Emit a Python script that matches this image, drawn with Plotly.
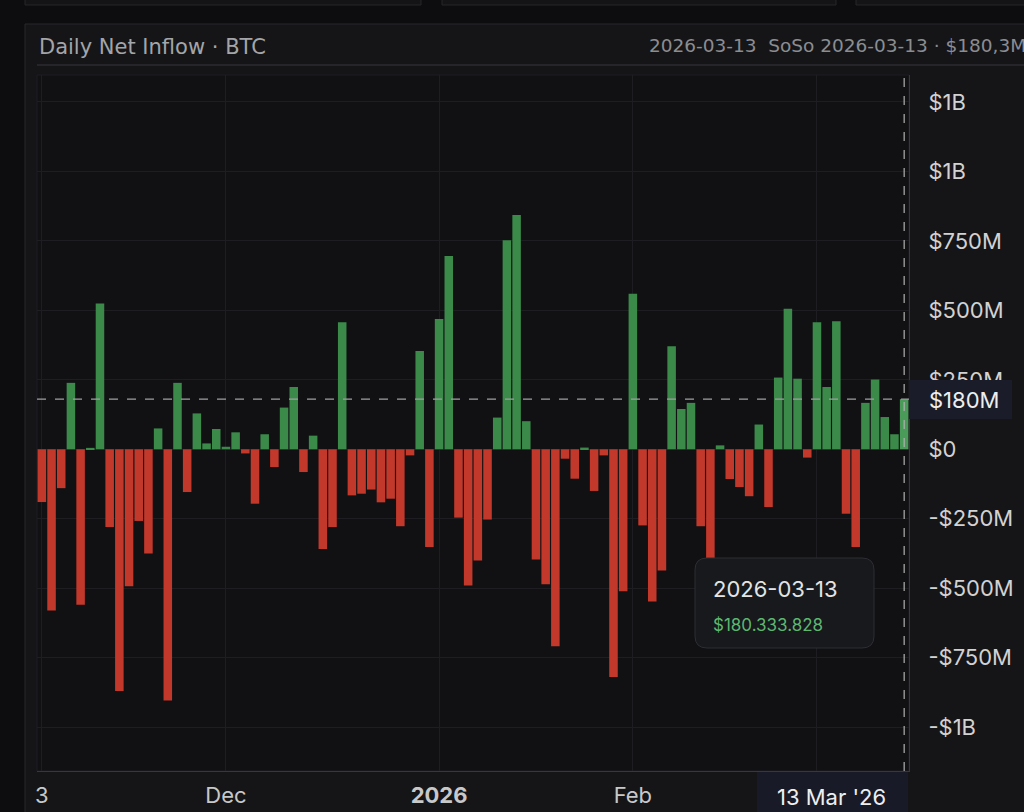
import pandas as pd
import plotly.graph_objects as go

W, H = 1024, 812
# plot area edges in page pixels
L, R, T, B = 37, 909, 75, 771

# US market holidays inside the window (ETF flows are trading days only)
HOLIDAYS = ["2025-11-27", "2025-12-25", "2026-01-01", "2026-01-19", "2026-02-16"]
dates = [d.strftime("%Y-%m-%d") for d in pd.bdate_range("2025-11-03", "2026-03-13")
         if d.strftime("%Y-%m-%d") not in HOLIDAYS]

# daily net inflow, USD millions
net_inflow_m = [
    # Nov
    -190, -580, -140, 239, -560, 5, 525, -280, -870, -493,
    -258, -375, 75, -904, 239, -154, 129, 21, 73,
    # Dec
    9, 61, -15, -196, 54, -64, 150, 224, -82, 49, -359,
    -280, 457, -166, -160, -145, -191, -178, -277, -22, 354, -352,
    # Jan
    469, 696, -246, -490, -400, -253, 114, 752, 843, 101,
    -397, -486, -709, -34, -106, 6, -150, -22, -820, -511,
    # Feb
    560, -274, -548, -436, 371, 145, 167, -277, -391, 14,
    -107, -136, -169, 89, -208, 258, 506, 254, -30,
    # Mar
    457, 224, 461, -232, -352, 167, 251, 116, 54, 180.333828,
]

x_tick_dates = ["2025-11-03", "2025-12-01", "2026-01-02", "2026-02-02", "2026-03-02"]
# "Mar" sits under the crosshair date box, so it stays blank
x_tick_text = ["3", "Dec", "<b>2026</b>", "Feb", ""]
y_tick_vals = [1250, 1000, 750, 500, 250, 0, -250, -500, -750, -1000]
y_tick_text = ["$1B", "$1B", "$750M", "$500M", "$250M", "$0",
               "-$250M", "-$500M", "-$750M", "-$1B"]

GREEN = "#3b8a4a"
GREEN_HOVER = "#4a9a59"
RED = "#c2392c"
FONT = "Inter"
HEAD_FONT = "DejaVu Sans"


def fx(px):
    return (px - L) / (R - L)


def fy(py):
    return (B - py) / (B - T)


def rect(x0, y0, x1, y1, fill, line=None, layer="below"):
    return dict(type="rect", xref="paper", yref="paper",
                x0=fx(x0), x1=fx(x1), y0=fy(y1), y1=fy(y0),
                fillcolor=fill, layer=layer,
                line=dict(color=line or fill, width=1 if line else 0))


def round_rect(x0, y0, x1, y1, r, fill, line):
    a0, a1, b0, b1 = fx(x0), fx(x1), fy(y1), fy(y0)
    rx = r / (R - L)
    ry = r / (B - T)
    path = (f"M {a0+rx},{b1} L {a1-rx},{b1} Q {a1},{b1} {a1},{b1-ry} "
            f"L {a1},{b0+ry} Q {a1},{b0} {a1-rx},{b0} L {a0+rx},{b0} "
            f"Q {a0},{b0} {a0},{b0+ry} L {a0},{b1-ry} Q {a0},{b1} {a0+rx},{b1} Z")
    return dict(type="path", xref="paper", yref="paper", path=path,
                fillcolor=fill, line=dict(color=line, width=1), layer="above")


last_date = dates[-1]
last_val = net_inflow_m[-1]
last_ts = pd.Timestamp(last_date)

colors = [GREEN if v >= 0 else RED for v in net_inflow_m]
colors[-1] = GREEN_HOVER

fig = go.Figure(go.Bar(
    x=dates, y=net_inflow_m,
    marker=dict(color=colors, line=dict(width=0)),
    hoverinfo="skip",
))

shapes = [
    # cards peeking in at the top
    rect(25, -20, 421, 5, "#141417", "#26262a"),
    rect(442, -20, 836, 5, "#141417", "#26262a"),
    rect(856, -20, 1040, 5, "#141417", "#26262a"),
    # main panel
    rect(25, 24, 1040, 840, "#151518", "#29292d"),
    dict(type="line", xref="paper", yref="paper", x0=fx(37), x1=fx(1040),
         y0=fy(65), y1=fy(65), line=dict(color="#2c2c30", width=1.5), layer="below"),
    # plot area
    rect(37, 75, 909, 771, "#111114", "#1f1f23"),
    # crosshair
    dict(type="line", xref="paper", yref="y", x0=0, x1=1, y0=last_val, y1=last_val,
         line=dict(color="#a0a0a0", width=1.2, dash="dash"), layer="above"),
    dict(type="line", xref="x", yref="paper", x0=last_date, x1=last_date, y0=0, y1=1,
         line=dict(color="#b0b0b0", width=1.2, dash="dash"), layer="above"),
    # crosshair labels
    rect(909, 380, 1012, 419, "#1a1d29", layer="above"),
    rect(757, 772, 908, 812, "#181b27", layer="above"),
    # tooltip
    round_rect(695, 558, 874, 648, 12, "#17191c", "#2c2e33"),
]


def note(text, x, y, size, color, anchor="left", family=FONT):
    return dict(text=text, xref="paper", yref="paper", x=fx(x), y=fy(y),
                xanchor=anchor, yanchor="middle", showarrow=False,
                font=dict(family=family, size=size, color=color))


annotations = [
    note("Daily Net Inflow · BTC", 37, 47, 21, "#a3a5a9", family=HEAD_FONT),
    note(f"{last_date}  SoSo {last_date} · ${last_val:.1f}M".replace(".", ","),
         647, 46, 18.5, "#8b8d91", family=HEAD_FONT),
    note(f"${last_val:.0f}M", 927, 400, 22, "#eeeeee"),
    note(last_ts.strftime("%-d %b '%y"), 831, 797, 22, "#eeeeee", anchor="center"),
    note(last_date, 711, 589, 22, "#e4e4e4"),
    note(f"${last_val * 1e6:,.0f}".replace(",", "."), 711, 625, 17, "#5cb870"),
]

fig.update_layout(
    width=W, height=H,
    margin=dict(l=L, r=W - R, t=T, b=H - B, autoexpand=False),
    paper_bgcolor="#0d0d0f",
    plot_bgcolor="rgba(0,0,0,0)",
    showlegend=False,
    hovermode=False,
    bargap=0.12,
    font=dict(family=FONT, color="#cfcfcf"),
    xaxis=dict(
        type="category", range=[-0.5, len(dates) - 0.5],
        tickmode="array", tickvals=x_tick_dates, ticktext=x_tick_text,
        showgrid=True, gridcolor="#1e1e22", gridwidth=1,
        ticks="", ticklabelstandoff=5, automargin=False,
        tickfont=dict(size=22, color="#c8c8c8"),
        showline=True, linecolor="#38383c", linewidth=1,
        zeroline=False, fixedrange=True,
    ),
    yaxis=dict(
        side="right", range=[-1158, 1347],
        tickmode="array", tickvals=y_tick_vals, ticktext=y_tick_text,
        showgrid=True, gridcolor="#1e1e22", gridwidth=1,
        ticks="", ticklabelstandoff=14, automargin=False,
        tickfont=dict(size=22, color="#d2d2d2"),
        showline=True, linecolor="#38383c", linewidth=1,
        zeroline=False, fixedrange=True,
    ),
    shapes=shapes,
    annotations=annotations,
)

fig.write_html("out.html", config={"displayModeBar": False},
               post_script="document.body.style.margin='0';"
                           "document.body.style.overflow='hidden';")
